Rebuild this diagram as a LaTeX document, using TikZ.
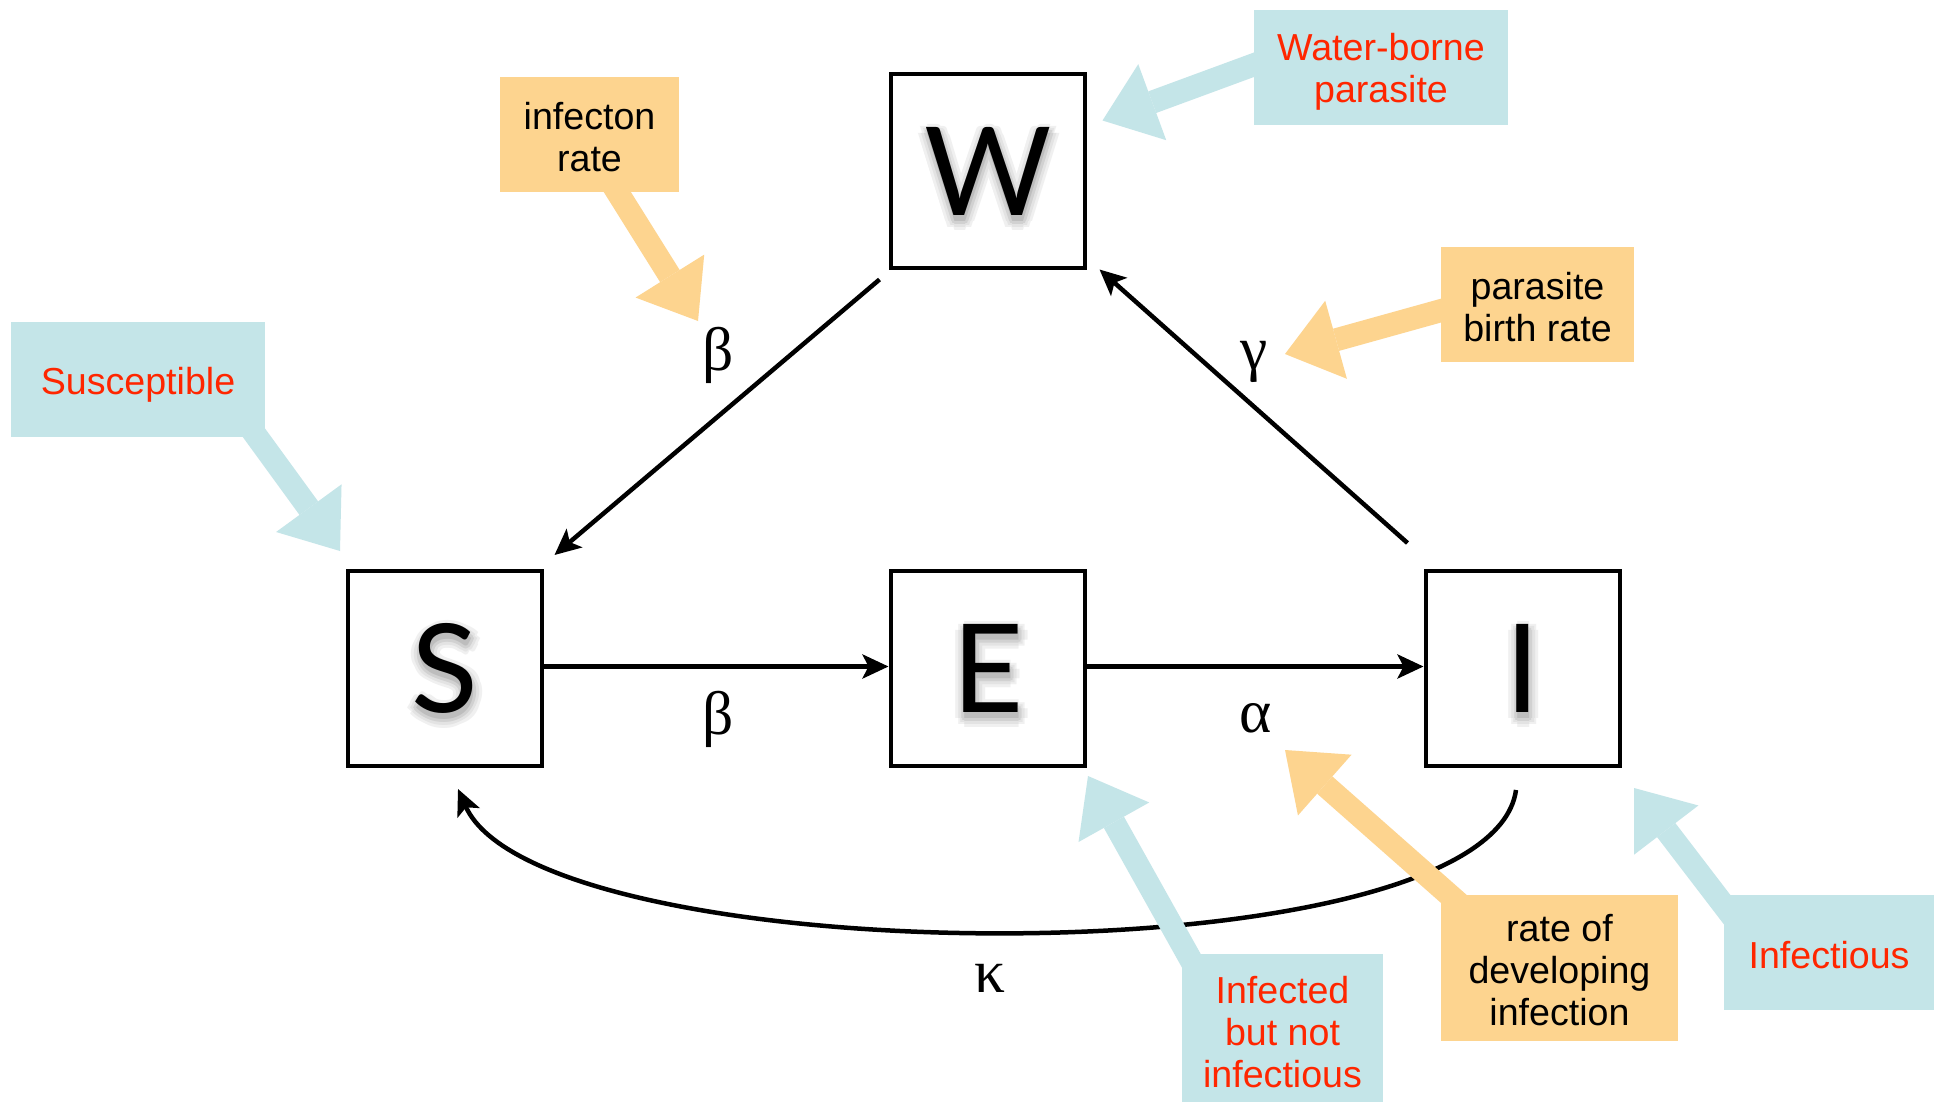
\documentclass[tikz,border=0pt]{standalone}
\usepackage{fontspec}
\usetikzlibrary{arrows.meta,calc}
\newfontfamily\callfont{Liberation Sans}
\newfontfamily\bigfont{Lato}
\newfontfamily\greekfont{Liberation Serif}
\definecolor{calloutblue}{RGB}{196,229,232}
\definecolor{calloutorange}{RGB}{253,212,143}
\definecolor{labelred}{RGB}{255,38,0}
\pgfdeclarelayer{paper}
\pgfdeclarelayer{curvelayer}
\pgfdeclarelayer{pointerlayer}
\pgfsetlayers{paper,curvelayer,pointerlayer,main}

\tikzset{
  bigletter/.style={inner sep=0pt, font=\bigfont\fontsize{70pt}{70pt}\selectfont},
  compartment/.style={bigletter, draw=black, line width=0.08cm,
    minimum width=3.9cm, minimum height=3.9cm},
  flow/.style={line width=0.09cm, -{Stealth[length=0.52cm,width=0.48cm,inset=0.12cm]}},
  rate/.style={inner sep=0pt, font=\greekfont\fontsize{35pt}{35pt}\selectfont},
  calloutbox/.style={inner sep=0pt},
  calloutlabel/.style={inner sep=0pt, align=center,
    font=\callfont\fontsize{21.4pt}{23.9pt}\selectfont},
  bluebox/.style={calloutbox, fill=calloutblue},
  orangebox/.style={calloutbox, fill=calloutorange},
  bluelabel/.style={calloutlabel, text=labelred},
  orangelabel/.style={calloutlabel, text=black},
  pointer/.style={line width=0.46cm, -{Triangle[length=1.06cm,width=1.62cm,line width=0pt]}},
}

% soft drop shadow under a compartment letter: stacked grey copies
\newcommand{\lettershadow}[3]{%
  \foreach \rad/\shade [count=\i] in {9/6,6/11,3/18}{%
    \foreach \ang [count=\j] in {0,45,...,315}{%
      \node[bigletter, text=black!\shade] (#1-\i-\j) at ($(#2)+(1,6)+(\ang:\rad)$) {#3};
    }}%
  \node[bigletter, text=black!26] (#1-core) at ($(#2)+(1,6)$) {#3};}

\begin{document}
\begin{tikzpicture}[x=0.02cm, y=-0.02cm]
\useasboundingbox (0,0) rectangle (1941,1102);
\begin{pgfonlayer}{paper}
  \fill[white] (0,0) rectangle (1941,1102);
\end{pgfonlayer}
\clip (0,0) rectangle (1941,1102);

% compartments
\lettershadow{shW}{988,171}{W}
\lettershadow{shS}{445,668.5}{S}
\lettershadow{shE}{988,668.5}{E}
\lettershadow{shI}{1523,668.5}{I}
\node[compartment] (W) at (988,171) {W};
\node[compartment] (S) at (445,668.5) {S};
\node[compartment] (E) at (988,668.5) {E};
\node[compartment] (I) at (1523,668.5) {I};

% transitions
\coordinate (wsStart) at ($(W.south west)+(-9,9)$);
\coordinate (wsEnd) at ($(S.north east)+(10,-14)$);
\draw[flow] (wsStart) -- (wsEnd);
\coordinate (iwStart) at ($(I.north west)+(-16,-26)$);
\coordinate (iwEnd) at ($(W.south east)+(12,-1)$);
\draw[flow] (iwStart) -- (iwEnd);
\draw[flow] ($(S.east)+(0,-2)$) -- ($(E.west)+(0,-2)$);
\draw[flow] ($(E.east)+(0,-2)$) -- ($(I.west)+(0,-2)$);
\coordinate (isStart) at ($(I.south)+(-7,22)$);
\coordinate (isEnd) at ($(S.south)+(13,21)$);
\begin{pgfonlayer}{curvelayer}
  \draw[flow] (isStart) .. controls ($(isStart)+(-26,192)$) and ($(isEnd)+(82,186)$) .. (isEnd);
\end{pgfonlayer}

% rate symbols
\node[rate] (betaWS) at (718,355.5) {β};
\node[rate] (gammaIW) at (1254,361.5) {γ};
\node[rate] (betaSE) at (718,719) {β};
\node[rate] (alphaEI) at (1256,718.5) {α};
\node[rate] (kappaIS) at (990,978.5) {κ};

% callout boxes
\node[orangebox, minimum width=3.58cm, minimum height=2.3cm] (infect) at (589.5,134.5) {};
\node[bluebox, minimum width=5.08cm, minimum height=2.3cm] (sus) at (138,379.5) {};
\node[bluebox, minimum width=5.08cm, minimum height=2.3cm] (water) at (1381,67.5) {};
\node[orangebox, minimum width=3.86cm, minimum height=2.3cm] (pbr) at (1537.5,304.5) {};
\node[bluebox, minimum width=4.02cm, minimum height=3.06cm] (infd) at (1282.5,1030.5) {};
\node[orangebox, minimum width=4.74cm, minimum height=2.92cm] (rdi) at (1559.5,968) {};
\node[bluebox, minimum width=4.2cm, minimum height=2.3cm] (infs) at (1829,952.5) {};

% callout texts
\node[orangelabel] (infectText) at ($(infect)+(0,2.5)$) {infecton\\rate};
\node[bluelabel] (susText) at ($(sus)+(0,5)$) {Susceptible};
\node[bluelabel] (waterText) at ($(water)+(0,4.5)$) {Water-borne\\parasite};
\node[orangelabel] (pbrText) at ($(pbr)+(0,2.5)$) {parasite\\birth rate};
\node[bluelabel] (infdText) at ($(infd)+(0,2)$) {Infected\\but not\\infectious};
\node[orangelabel] (rdiText) at ($(rdi)+(0,2.5)$) {rate of\\developing\\infection};
\node[bluelabel] (infsText) at ($(infs)+(0,2.5)$) {Infectious};

% callout pointers
\coordinate (infectTip) at (698,321);
\coordinate (susTip) at (340,551);
\coordinate (waterTip) at (1102.5,120.5);
\coordinate (pbrTip) at (1285,354);
\coordinate (infdTip) at (1088,776);
\coordinate (rdiTip) at (1285,750);
\coordinate (infsTip) at (1634,788);
\coordinate (infectBase) at ($(infect.south)+(15.5,-20)$);
\coordinate (susBase) at ($(sus.south east)+(-27,-26)$);
\coordinate (waterBase) at ($(water.west)+(24,-11.5)$);
\coordinate (pbrBase) at ($(pbr.west)+(24,-0.5)$);
\coordinate (infdBase) at ($(infd.north west)+(18,22)$);
\coordinate (rdiBase) at ($(rdi.north west)+(31,20)$);
\coordinate (infsBase) at ($(infs.north west)+(18,34)$);
\begin{pgfonlayer}{pointerlayer}
  \draw[pointer, calloutorange] (infectBase) -- (infectTip);
  \draw[pointer, calloutblue] (susBase) -- (susTip);
  \draw[pointer, calloutblue] (waterBase) -- (waterTip);
  \draw[pointer, calloutorange] (pbrBase) -- (pbrTip);
  \draw[pointer, calloutblue] (infdBase) -- (infdTip);
  \draw[pointer, calloutorange] (rdiBase) -- (rdiTip);
  \draw[pointer, calloutblue] (infsBase) -- (infsTip);
\end{pgfonlayer}
\end{tikzpicture}
\end{document}
